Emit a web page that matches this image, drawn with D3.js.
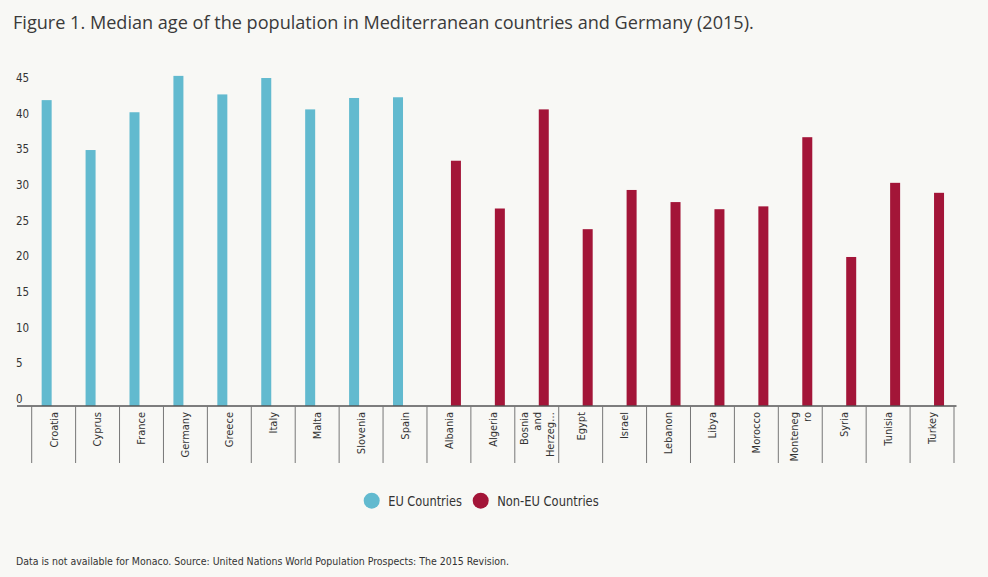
<!DOCTYPE html>
<html>
<head>
<meta charset="utf-8">
<script src="https://cdn.jsdelivr.net/npm/d3@7"></script>
<style>
  html, body { margin: 0; padding: 0; background: #f8f8f5; }
  svg { display: block; }
  .narrow { font-family: "Liberation Sans Narrow", "DejaVu Sans Condensed", "Arial Narrow", sans-serif; }
</style>
</head>
<body>
<svg id="chart" width="988" height="577"></svg>
<script>
// ---- Data ----
const categories = ["Croatia","Cyprus","France","Germany","Greece","Italy","Malta","Slovenia","Spain",
  "Albania","Algeria","Bosnia and Herzegovina","Egypt","Israel","Lebanon","Libya","Morocco","Montenegro","Syria","Tunisia","Turkey"];
const tickLabels = [["Croatia"],["Cyprus"],["France"],["Germany"],["Greece"],["Italy"],["Malta"],["Slovenia"],["Spain"],
  ["Albania"],["Algeria"],["Bosnia","and","Herzeg…"],["Egypt"],["Israel"],["Lebanon"],["Libya"],["Morocco"],["Monteneg","ro"],["Syria"],["Tunisia"],["Turkey"]];
const series = ["EU Countries","Non-EU Countries"];
const euValues =    [42.9,35.9,41.2,46.3,43.7,46.0,41.6,43.2,43.3, null,null,null,null,null,null,null,null,null,null,null,null];
const nonEuValues = [null,null,null,null,null,null,null,null,null, 34.4,27.7,41.6,24.8,30.3,28.6,27.6,28.0,37.7,20.9,31.3,29.9];
const yTicks = [0,5,10,15,20,25,30,35,40,45];
const colors = ["#62bacf","#a31538"];
const title = "Figure 1. Median age of the population in Mediterranean countries and Germany (2015).";
const footnote = "Data is not available for Monaco. Source: United Nations World Population Prospects: The 2015 Revision.";

// ---- Layout ----
const svg = d3.select("#chart");
const baseY = 406;
const x = d3.scaleBand().domain(categories).range([31.7, 954]).paddingInner(0).paddingOuter(0);
const bw = x.bandwidth();
const xs = d3.scaleBand().domain(series).range([bw/2 - 12, bw/2 + 12]).paddingInner(2 - 24/14).paddingOuter(0);
const y = d3.scaleLinear().domain([0, 50]).range([baseY, baseY - 50*7.13]);

svg.append("rect").attr("width", 988).attr("height", 577).attr("fill", "#f8f8f5");

// Title
svg.append("text").attr("x", 13).attr("y", 29)
  .attr("font-family", "'Open Sans', sans-serif").attr("font-size", 18.1).attr("fill", "#3a3a3a")
  .text(title);

// Y tick labels
svg.append("g").selectAll("text").data(yTicks).join("text")
  .attr("class", "narrow")
  .attr("x", 16).attr("y", d => y(d) - 7).attr("dy", "0.35em")
  .attr("font-size", 11.5).attr("fill", "#333")
  .text(d => d);

// Bars
const rows = categories.map((c, i) => ({c, vals: [euValues[i], nonEuValues[i]]}));
const g = svg.append("g");
rows.forEach(r => {
  r.vals.forEach((v, si) => {
    if (v == null) return;
    g.append("rect")
      .attr("x", x(r.c) + xs(series[si]))
      .attr("width", xs.bandwidth())
      .attr("y", y(v))
      .attr("height", y(0) - y(v))
      .attr("fill", colors[si]);
  });
});

// X axis line and tick separators
svg.append("line").attr("x1", 17).attr("x2", 956.5).attr("y1", baseY).attr("y2", baseY)
  .attr("stroke", "#555").attr("stroke-width", 1.5);
const bounds = categories.map(c => x(c)).concat([x.range()[1]]);
svg.append("g").selectAll("line").data(bounds).join("line")
  .attr("x1", d => d).attr("x2", d => d).attr("y1", baseY).attr("y2", 463)
  .attr("stroke", "#777").attr("stroke-width", 1);

// X labels (rotated)
const lab = svg.append("g");
categories.forEach((c, i) => {
  const lines = tickLabels[i];
  const cx = x(c) + bw/2;
  const lh = 13;
  lines.forEach((ln, j) => {
    const off = (j - (lines.length - 1) / 2) * lh;
    lab.append("text")
      .attr("class", "narrow")
      .attr("transform", `translate(${cx + off},412) rotate(-90)`)
      .attr("text-anchor", "end").attr("dy", "0.35em")
      .attr("font-size", 11).attr("fill", "#333")
      .text(ln);
  });
});

// Legend
const legX = [371.7, 480.7];
const legW = [73.7, 101.5];
series.forEach((s, i) => {
  svg.append("circle").attr("cx", legX[i]).attr("cy", 500.7).attr("r", 8).attr("fill", colors[i]);
  svg.append("text").attr("class", "narrow")
    .attr("x", legX[i] + 16.5).attr("y", 500.7).attr("dy", "0.35em")
    .attr("font-size", 14).attr("fill", "#333")
    .attr("textLength", legW[i]).attr("lengthAdjust", "spacingAndGlyphs")
    .text(s);
});

// Footnote
svg.append("text").attr("class", "narrow")
  .attr("x", 16).attr("y", 561).attr("dy", "0.35em")
  .attr("font-size", 11).attr("fill", "#333")
  .attr("textLength", 493).attr("lengthAdjust", "spacingAndGlyphs")
  .text(footnote);
</script>
</body>
</html>
